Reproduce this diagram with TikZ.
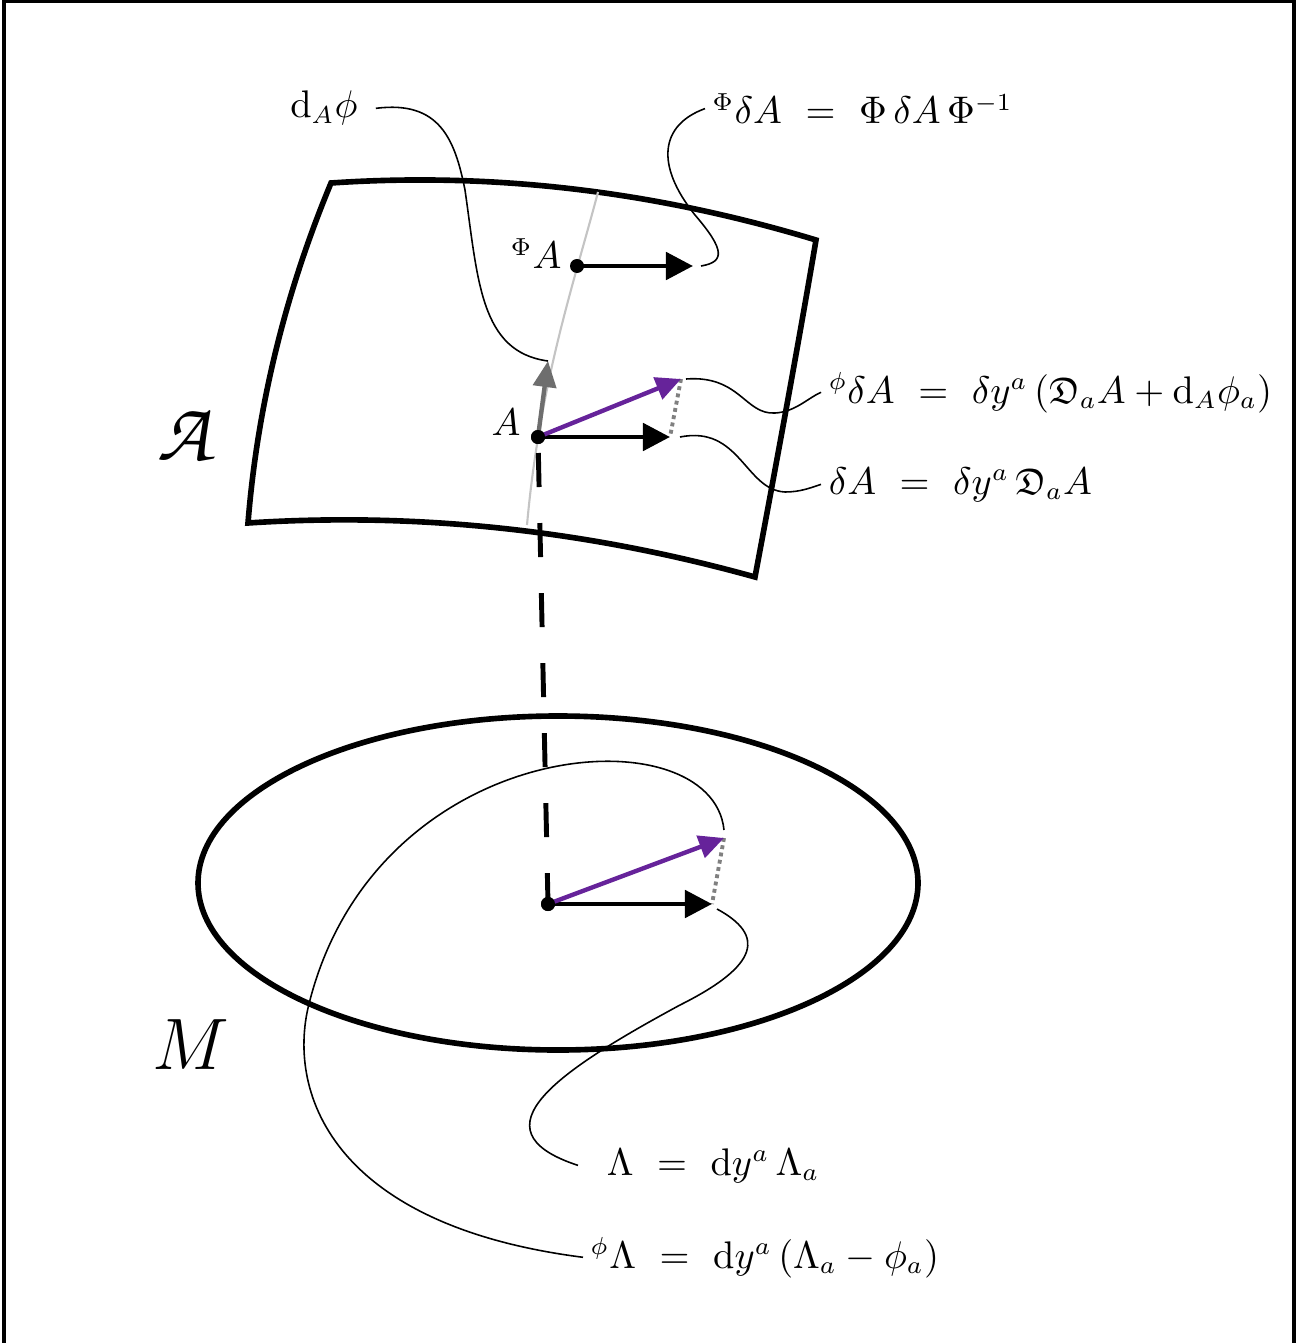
\documentclass[tikz,border=0pt]{standalone}
\usepackage{amsmath}
\usepackage{amssymb}
\usepackage{xcolor}
\usepackage{tikz}
\usetikzlibrary{arrows.meta}
\DeclareMathAlphabet{\mathpzc}{OT1}{pzc}{m}{it}
\definecolor{kvert}{HTML}{6E6E6E}
\definecolor{kfib}{HTML}{C4C4C4}
\definecolor{kgauge}{HTML}{66239A}
\definecolor{kdiff}{HTML}{808080}
\newcommand{\eqs}{\mkern6mu=\mkern6mu}

\begin{document}
\begin{tikzpicture}[
  x=0.01cm,y=-0.01cm,
  font=\fontsize{10.5}{12.5}\selectfont,
  sheet/.style={line width=1.6pt,line join=miter},
  lead/.style={line width=0.45pt},
  vec/.style={line width=1.4pt,-{Triangle[length=2.7mm,width=2.7mm]}},
  gvec/.style={line width=1.25pt,color=kgauge,-{Triangle[length=2.5mm,width=2.3mm]}},
  vvec/.style={line width=1.25pt,color=kvert,-{Triangle[length=2.6mm,width=2.3mm]}},
  diff/.style={line width=1.1pt,color=kdiff,dash pattern=on 1.1pt off 1pt},
  pt/.style={circle,fill=black,inner sep=0pt,minimum size=1.4mm},
  lbl/.style={inner sep=2pt,anchor=base west},
  big/.style={font=\fontsize{21}{25}\selectfont}]
  \useasboundingbox (0,0) rectangle (1303,1343);
  \draw[line width=0.9pt] (4,1360) -- (4,1.5) -- (1294,1.5) -- (1294,1360);
  % space of connections
  \draw[sheet] (331,183) .. controls (493,172) and (654,191) .. (816,240)
    .. controls (797,352) and (776,465) .. (755,577)
    .. controls (586,530) and (417,512) .. (248,523)
    .. controls (257,410) and (284,296) .. (331,183) -- cycle;
  \draw[kfib,line width=0.6pt] (598,192) .. controls (575,280) and (540,380) .. (527,525);
  % base
  \draw[sheet] (558,883) ellipse [x radius=360,y radius=167];
  \node[big,font=\fontsize{24}{28}\selectfont] (calA) at (187,434) {$\mathpzc{A}$};
  \node[big] (M) at (191,1045) {$M$};
  \node[pt] (phiA) at (577,266) {};
  \node[pt] (A) at (538,437) {};
  \node[pt] (x) at (548,904) {};
  \coordinate (phiAtip) at (693,266);
  \coordinate (dAtip) at (670,437);
  \coordinate (gAtip) at (681,379);
  \coordinate (vAtip) at (548,361);
  \coordinate (lamtip) at (712,904);
  \coordinate (glamtip) at (724,838);
  \draw[line width=1.4pt,dash pattern=on 0.34cm off 0.36cm,dash phase=0.54cm] (A.center) -- (x.center);
  \draw[diff] (gAtip) -- (dAtip);
  \draw[diff] (glamtip) -- (lamtip);
  \draw[vec] (phiA.center) -- (phiAtip);
  \draw[vvec] (A.center) -- (vAtip);
  \draw[vec] (A.center) -- (dAtip);
  \draw[gvec] (A.center) -- (gAtip);
  \draw[vec] (x.center) -- (lamtip);
  \draw[gvec] (x.center) -- (glamtip);
  \node[pt] at (A) {};
  \node[pt] at (x) {};
  \node[anchor=base east] (lA) at (533,435) {$A$};
  \node[anchor=base east] (lphiA) at (574,269) {${}^{\Phi}A$};
  % labels and leaders
  \node[lbl,inner xsep=5pt] (ldphi) at (272,118) {$\mathrm{d}_A\phi$};
  \node[lbl] (lPhi) at (705,124) {${}^{\Phi}\delta A\eqs\Phi\,\delta A\,\Phi^{-1}$};
  \node[lbl] (lgA) at (821,403) {${}^{\phi}\delta A\eqs\delta y^a\,(\mathfrak{D}_a A+\mathrm{d}_A\phi_a)$};
  \node[lbl] (ldA) at (821,494) {$\delta A\eqs\delta y^a\,\mathfrak{D}_a A$};
  \node[lbl,inner xsep=8pt] (lLam) at (578,1175) {$\Lambda\eqs\mathrm{d}y^a\,\Lambda_a$};
  \node[lbl] (lgLam) at (583,1268) {${}^{\phi}\Lambda\eqs\mathrm{d}y^a\,(\Lambda_a-\phi_a)$};
  \draw[lead] (ldphi.east) .. controls (440,100) and (455,140) .. (465,190)
    .. controls (478,280) and (480,352) .. (vAtip);
  \draw[lead] ([xshift=0.08cm]phiAtip) .. controls (725,262) and (725,250) .. (695,215)
    .. controls (655,165) and (660,125) .. (lPhi.west);
  \draw[lead] ([xshift=0.05cm]gAtip) .. controls (740,375) and (745,415) .. (775,413)
    .. controls (795,412) and (808,398) .. (lgA.west);
  \draw[lead] ([xshift=0.1cm]dAtip) .. controls (740,425) and (745,490) .. (785,492)
    .. controls (800,492) and (810,488) .. (ldA.west);
  \draw[lead] ([xshift=0.05cm,yshift=-0.05cm]lamtip) .. controls (765,935) and (760,965) .. (680,1005)
    .. controls (560,1070) and (470,1130) .. (lLam.west);
  \draw[lead] ([yshift=0.08cm]glamtip) .. controls (712,712) and (380,732) .. (310,1000)
    .. controls (285,1090) and (330,1225) .. (lgLam.west);
\end{tikzpicture}
\end{document}
